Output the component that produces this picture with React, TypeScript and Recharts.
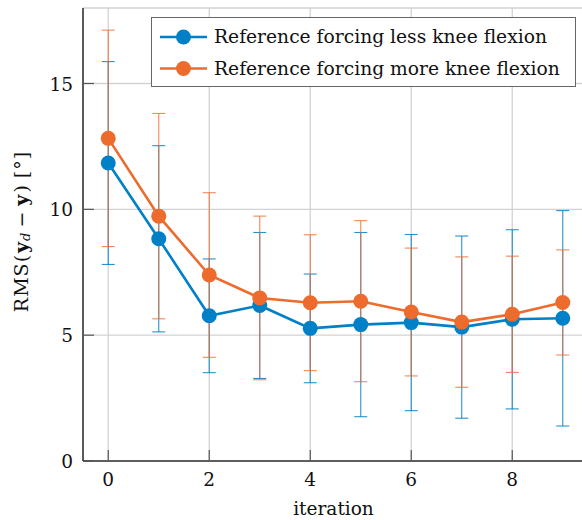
import React from 'react';
import {
  LineChart,
  Line,
  XAxis,
  YAxis,
  CartesianGrid,
  ErrorBar,
  Legend,
  Label,
} from 'recharts';

const iterations = [0, 1, 2, 3, 4, 5, 6, 7, 8, 9];
const lessMean = [11.84, 8.83, 5.77, 6.18, 5.27, 5.42, 5.5, 5.32, 5.63, 5.67];
const lessStd = [4.03, 3.7, 2.26, 2.9, 2.16, 3.66, 3.5, 3.62, 3.56, 4.28];
const moreMean = [12.82, 9.73, 7.39, 6.48, 6.29, 6.35, 5.92, 5.52, 5.83, 6.3];
const moreStd = [4.3, 4.08, 3.27, 3.25, 2.7, 3.2, 2.54, 2.59, 2.31, 2.09];
const xTicks = [0, 2, 4, 6, 8];
const yTicks = [0, 5, 10, 15];
const seriesNames = ['Reference forcing less knee flexion', 'Reference forcing more knee flexion'];

const BLUE = '#0080C6';
const ORANGE = '#EC6B2D';
const FONT = 'DejaVu Serif';
const FS = 18.5;

const data = iterations.map((it, i) => ({
  iteration: it,
  less: lessMean[i],
  lessErr: lessStd[i],
  more: moreMean[i],
  moreErr: moreStd[i],
}));

const XTick = (props: any) => {
  const { x, y, payload } = props;
  return (
    <g>
      <line x1={x} y1={y} x2={x} y2={y - 11} stroke="#555" strokeWidth={1.2} />
      <text x={x} y={y + 25} textAnchor="middle" style={{ fontFamily: FONT, fontSize: FS }} fill="#111">
        {payload.value}
      </text>
    </g>
  );
};

const YTick = (props: any) => {
  const { x, y, payload } = props;
  return (
    <g>
      <line x1={x} y1={y} x2={x + 11} y2={y} stroke="#555" strokeWidth={1.2} />
      <text x={x - 10} y={y + 7} textAnchor="end" style={{ fontFamily: FONT, fontSize: FS }} fill="#111">
        {payload.value}
      </text>
    </g>
  );
};

const YLabel = (props: any) => {
  const { viewBox } = props;
  const cx = viewBox.x + 21;
  const cy = viewBox.y + viewBox.height / 2 - 3;
  return (
    <text
      x={cx}
      y={cy}
      transform={`rotate(-90, ${cx}, ${cy})`}
      textAnchor="middle"
      dominantBaseline="central"
      style={{ fontFamily: FONT, fontSize: 19, letterSpacing: 1 }}
      fill="#111"
    >
      <tspan>RMS(</tspan>
      <tspan fontWeight="bold" dx={1}>y</tspan>
      <tspan fontStyle="italic" fontSize={13} dy={4}>d</tspan>
      <tspan dy={-4} dx={4}>−</tspan>
      <tspan fontWeight="bold" dx={5}>y</tspan>
      <tspan dx={1}>)</tspan>
      <tspan dx={6}>[°]</tspan>
    </text>
  );
};

const XLabel = (props: any) => {
  const { viewBox } = props;
  const cx = viewBox.x + viewBox.width / 2 - 2;
  return (
    <text x={cx} y={viewBox.y + 54} textAnchor="middle" style={{ fontFamily: FONT, fontSize: FS }} fill="#111">
      iteration
    </text>
  );
};

const LegendBox = () => {
  const colors = [BLUE, ORANGE];
  return (
    <div
      style={{
        width: 425,
        height: 70,
        boxSizing: 'border-box',
        border: '1.3px solid #666',
        background: '#fff',
      }}
    >
      <svg width={423} height={68} style={{ display: 'block' }}>
        {seriesNames.map((name, i) => {
          const cy = 19 + i * 31.5;
          return (
            <g key={name}>
              <line x1={8} y1={cy} x2={55} y2={cy} stroke={colors[i]} strokeWidth={2.6} />
              <circle cx={31.5} cy={cy} r={7.5} fill={colors[i]} />
              <text x={62} y={cy + 6} style={{ fontFamily: FONT, fontSize: 18.7 }} fill="#111">
                {name}
              </text>
            </g>
          );
        })}
      </svg>
    </div>
  );
};

export default function App() {
  return (
    <div style={{ position: 'absolute', left: 0, top: 0, width: 582, height: 520, overflow: 'hidden', background: '#fff' }}>
      <LineChart
        width={600}
        height={520}
        data={data}
        margin={{ top: 8, right: 12, left: 0, bottom: 0 }}
      >
        <CartesianGrid stroke="#d2d2d2" strokeWidth={1.3} />
        <XAxis
          dataKey="iteration"
          type="number"
          domain={[-0.5, 9.5]}
          ticks={xTicks}
          height={59}
          tickSize={0}
          tickMargin={0}
          tickLine={false}
          axisLine={{ stroke: '#333', strokeWidth: 1.3 }}
          tick={<XTick />}
          interval={0}
        >
          <Label content={<XLabel />} />
        </XAxis>
        <YAxis
          type="number"
          domain={[0, 18]}
          ticks={yTicks}
          width={83}
          tickSize={0}
          tickMargin={0}
          tickLine={false}
          axisLine={{ stroke: '#111', strokeWidth: 1.3 }}
          tick={<YTick />}
          interval={0}
        >
          <Label content={<YLabel />} />
        </YAxis>
        <Legend
          layout="vertical"
          align="center"
          verticalAlign="middle"
          content={<LegendBox />}
          wrapperStyle={{ left: 151, top: 17, width: 425, height: 70 }}
        />
        <Line
          dataKey="less"
          stroke={BLUE}
          strokeWidth={2.6}
          dot={{ r: 7.5, fill: BLUE, stroke: 'none' }}
          isAnimationActive={false}
        >
          <ErrorBar dataKey="lessErr" direction="y" width={6.5} stroke={BLUE} strokeWidth={1.1} strokeOpacity={0.85} />
        </Line>
        <Line
          dataKey="more"
          stroke={ORANGE}
          strokeWidth={2.6}
          dot={{ r: 7.5, fill: ORANGE, stroke: 'none' }}
          isAnimationActive={false}
        >
          <ErrorBar dataKey="moreErr" direction="y" width={6.5} stroke={ORANGE} strokeWidth={1.1} strokeOpacity={0.8} />
        </Line>
      </LineChart>
    </div>
  );
}
